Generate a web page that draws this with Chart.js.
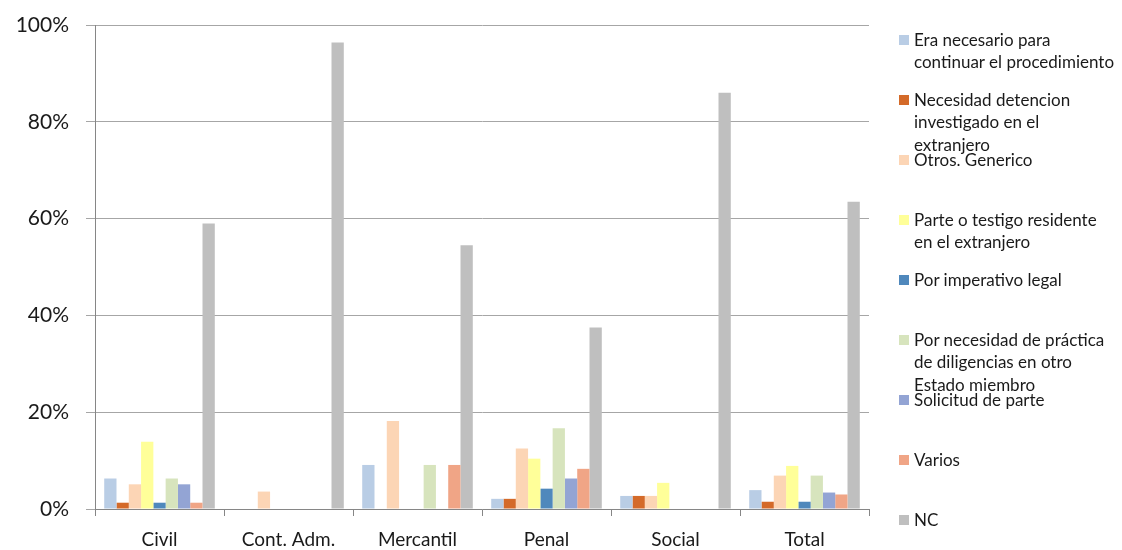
<!DOCTYPE html>
<html>
<head>
<meta charset="utf-8">
<script src="https://cdn.jsdelivr.net/npm/chart.js@4"></script>
<style>
  html, body { margin: 0; padding: 0; background: #fff; }
  #wrap { position: relative; width: 1122px; height: 550px; }
  #legend { position: absolute; left: 899px; top: 0; width: 223px; font-family: Lato, sans-serif; font-size: 17px; color: #1a1a1a; }
  .item { position: absolute; left: 0; width: 223px; }
  .box { position: absolute; left: 0; top: 6px; width: 10px; height: 10px; }
  .txt { position: absolute; left: 15px; top: 0; width: 215px; line-height: 22.5px; white-space: nowrap; }
</style>
</head>
<body>
<div id="wrap">
  <canvas id="myChart" width="1122" height="550"></canvas>
  <div id="legend"></div>
</div>
<script>
const categories = ['Civil', 'Cont. Adm.', 'Mercantil', 'Penal', 'Social', 'Total'];
// series names, split into the lines shown in the legend
const seriesNames = [
  ['Era necesario para', 'continuar el procedimiento'],
  ['Necesidad detencion', 'investigado en el', 'extranjero'],
  ['Otros. Generico'],
  ['Parte o testigo residente', 'en el extranjero'],
  ['Por imperativo legal'],
  ['Por necesidad de práctica', 'de diligencias en otro', 'Estado miembro'],
  ['Solicitud de parte'],
  ['Varios'],
  ['NC']
];
const eraNecesario = [6.3, 0, 9.1, 2.1, 2.7, 3.9];
const detencion = [1.3, 0, 0, 2.1, 2.7, 1.5];
const otros = [5.1, 3.6, 18.2, 12.5, 2.7, 6.9];
const parteTestigo = [13.9, 0, 0, 10.4, 5.4, 8.9];
const imperativo = [1.3, 0, 0, 4.2, 0, 1.5];
const practica = [6.3, 0, 9.1, 16.7, 0, 6.9];
const solicitud = [5.1, 0, 0, 6.3, 0, 3.4];
const varios = [1.3, 0, 9.1, 8.3, 0, 3.0];
const nc = [59.0, 96.4, 54.5, 37.5, 86.0, 63.5];
const yTicks = [0, 20, 40, 60, 80, 100];

const seriesValues = [eraNecesario, detencion, otros, parteTestigo, imperativo, practica, solicitud, varios, nc];
const colors = ['#b9cde5', '#d46a29', '#fcd5b5', '#ffff99', '#4f88bc', '#d7e4bd', '#93a4d4', '#f0a586', '#bfbfbf'];

const datasets = seriesNames.map((name, i) => ({
  label: name.join(' '),
  data: seriesValues[i],
  backgroundColor: colors[i],
  borderWidth: 0,
  barPercentage: 1,
  categoryPercentage: 9 / 10.5
}));

new Chart(document.getElementById('myChart').getContext('2d'), {
  type: 'bar',
  data: { labels: categories, datasets: datasets },
  options: {
    responsive: false,
    devicePixelRatio: 1,
    animation: false,
    layout: { padding: { left: 0, right: 253, top: 25, bottom: 0 } },
    plugins: { legend: { display: false }, tooltip: { enabled: false } },
    scales: {
      x: {
        afterFit: (s) => { s.height = 41; s.paddingLeft = 0; s.paddingRight = 0; },
        grid: { offset: true, drawOnChartArea: false, tickLength: 7, color: '#868686' },
        border: { color: '#868686' },
        ticks: { padding: 12, color: '#1a1a1a', font: { family: 'Lato', size: 19 } }
      },
      y: {
        min: 0,
        max: 100,
        afterFit: (s) => { s.width = 95; s.paddingTop = 0; s.paddingBottom = 0; },
        afterBuildTicks: (s) => { s.ticks = yTicks.map(v => ({ value: v })); },
        grid: { color: '#a6a6a6', tickLength: 9 },
        border: { color: '#868686' },
        ticks: {
          padding: 17,
          color: '#1a1a1a',
          font: { family: 'Lato', size: 21 },
          callback: (v) => v + '%'
        }
      }
    }
  }
});

const legend = document.getElementById('legend');
seriesNames.forEach((name, i) => {
  const item = document.createElement('div');
  item.className = 'item';
  item.style.top = (39.5 + i * 60.06 - 11) + 'px';
  item.innerHTML = '<span class="box" style="background:' + colors[i] + '"></span><span class="txt"></span>';
  const txt = item.querySelector('.txt');
  name.forEach((line, j) => {
    if (j > 0) txt.appendChild(document.createElement('br'));
    txt.appendChild(document.createTextNode(line));
  });
  legend.appendChild(item);
});
</script>
</body>
</html>
